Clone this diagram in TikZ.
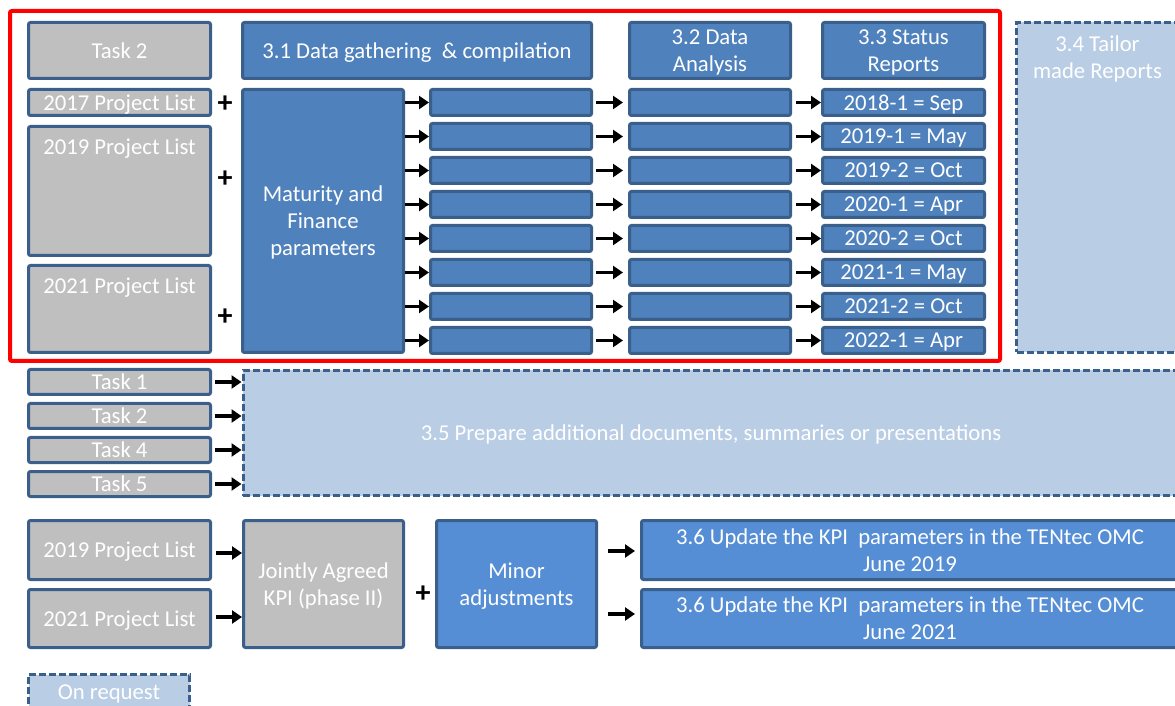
\documentclass[tikz,border=0pt]{standalone}
\usepackage{fontspec}
\setmainfont{Carlito}
\usepackage{xcolor}
\usetikzlibrary{arrows.meta,calc}
\definecolor{taskgray}{HTML}{BFBFBF}
\definecolor{boxline}{HTML}{3A5F8B}
\definecolor{stepblue}{HTML}{4F81BD}
\definecolor{brightblue}{HTML}{558ED5}
\definecolor{reqblue}{HTML}{B9CDE5}
\tikzset{
	boxbase/.style={rectangle, draw=boxline, line width=1.5pt, rounded corners=1pt, text=white, align=center, inner sep=0pt, text depth=0pt},
	graybox/.style={boxbase, fill=taskgray},
	bluebox/.style={boxbase, fill=stepblue},
	brightbox/.style={boxbase, fill=brightblue},
	reqbox/.style={boxbase, fill=reqblue, rounded corners=0pt, dash pattern=on 3.5pt off 1.5pt},
	rowbox/.style={bluebox, minimum width=80.5pt, minimum height=13pt},
	toplabel/.style={anchor=center, text=white, align=center, inner sep=0pt},
	plus/.style={font=\fontsize{15}{15}\selectfont\bfseries, text=black, inner sep=0pt},
	arr/.style={-{Triangle[length=5pt,width=6.5pt]}, line width=1.6pt}
}

\begin{document}
\begin{tikzpicture}[x=0.5pt, y=-0.5pt, font=\fontsize{11.35}{13.5}\selectfont]
        \useasboundingbox (0,0) rectangle (1175,706);
        \draw[red, line width=2pt, rounded corners=1pt] (10,11) rectangle (1000,361);
        \node[graybox, minimum width=91pt, minimum height=28pt] (task_2_top) at (119.5, 50.5) {Task 2};
        \node[bluebox, minimum width=174.5pt, minimum height=28pt] (gather) at (417, 50.5) {3.1 Data gathering\ \ \& compilation};
        \node[bluebox, minimum width=80.5pt, minimum height=28pt] (analysis) at (710, 50.5) {3.2 Data\\Analysis};
        \node[bluebox, minimum width=81pt, minimum height=28pt] (status) at (903.5, 50.5) {3.3 Status\\Reports};
        \node[reqbox, minimum width=81pt, minimum height=165pt,
              label={[toplabel, yshift=-19pt]north:{3.4 Tailor\\made Reports}}] (tailor) at (1097.5, 187.5) {};
        \node[graybox, minimum width=91pt, minimum height=13pt] (pl_2017) at (119.5, 102.5) {2017 Project List};
        \node[graybox, minimum width=91pt, minimum height=64.5pt,
              label={[toplabel, yshift=-12pt]north:2019 Project List}] (pl_2019) at (119.5, 191) {};
        \node[graybox, minimum width=91pt, minimum height=43.5pt,
              label={[toplabel, yshift=-12pt]north:2021 Project List}] (pl_2021) at (119.5, 309) {};
        \node[plus] (plus_1) at (225, 104) {+};
        \node[plus] (plus_2) at (225, 179) {+};
        \node[plus] (plus_3) at (225, 317) {+};
        \node[bluebox, minimum width=80.5pt, minimum height=131.5pt] (mat) at (323, 221) {Maturity and\\Finance\\parameters};
        \node[rowbox] (a_1) at (511, 102.5) {};
        \node[rowbox] (a_2) at (511, 136.5) {};
        \node[rowbox] (a_3) at (511, 170.5) {};
        \node[rowbox] (a_4) at (511, 204.5) {};
        \node[rowbox] (a_5) at (511, 238.5) {};
        \node[rowbox] (a_6) at (511, 272.5) {};
        \node[rowbox] (a_7) at (511, 306.5) {};
        \node[rowbox] (a_8) at (511, 340.5) {};
        \node[rowbox] (b_1) at (710, 102.5) {};
        \node[rowbox] (b_2) at (710, 136.5) {};
        \node[rowbox] (b_3) at (710, 170.5) {};
        \node[rowbox] (b_4) at (710, 204.5) {};
        \node[rowbox] (b_5) at (710, 238.5) {};
        \node[rowbox] (b_6) at (710, 272.5) {};
        \node[rowbox] (b_7) at (710, 306.5) {};
        \node[rowbox] (b_8) at (710, 340.5) {};
        \node[rowbox, minimum width=81pt] (c_1) at (903.5, 102.5) {2018-1 = Sep};
        \node[rowbox, minimum width=81pt] (c_2) at (903.5, 136.5) {2019-1 = May};
        \node[rowbox, minimum width=81pt] (c_3) at (903.5, 170.5) {2019-2 = Oct};
        \node[rowbox, minimum width=81pt] (c_4) at (903.5, 204.5) {2020-1 = Apr};
        \node[rowbox, minimum width=81pt] (c_5) at (903.5, 238.5) {2020-2 = Oct};
        \node[rowbox, minimum width=81pt] (c_6) at (903.5, 272.5) {2021-1 = May};
        \node[rowbox, minimum width=81pt] (c_7) at (903.5, 306.5) {2021-2 = Oct};
        \node[rowbox, minimum width=81pt] (c_8) at (903.5, 340.5) {2022-1 = Apr};
        \draw[arr] (mat.east |- a_1) -- (a_1.west);
        \draw[arr] (mat.east |- a_2) -- (a_2.west);
        \draw[arr] (mat.east |- a_3) -- (a_3.west);
        \draw[arr] (mat.east |- a_4) -- (a_4.west);
        \draw[arr] (mat.east |- a_5) -- (a_5.west);
        \draw[arr] (mat.east |- a_6) -- (a_6.west);
        \draw[arr] (mat.east |- a_7) -- (a_7.west);
        \draw[arr] (mat.east |- a_8) -- (a_8.west);
        \draw[arr, shorten <=1.5pt, shorten >=2.5pt] (a_1) -- (b_1);
        \draw[arr, shorten <=1.5pt, shorten >=2.5pt] (a_2) -- (b_2);
        \draw[arr, shorten <=1.5pt, shorten >=2.5pt] (a_3) -- (b_3);
        \draw[arr, shorten <=1.5pt, shorten >=2.5pt] (a_4) -- (b_4);
        \draw[arr, shorten <=1.5pt, shorten >=2.5pt] (a_5) -- (b_5);
        \draw[arr, shorten <=1.5pt, shorten >=2.5pt] (a_6) -- (b_6);
        \draw[arr, shorten <=1.5pt, shorten >=2.5pt] (a_7) -- (b_7);
        \draw[arr, shorten <=1.5pt, shorten >=2.5pt] (a_8) -- (b_8);
        \draw[arr, shorten <=2pt] (b_1) -- (c_1);
        \draw[arr, shorten <=2pt] (b_2) -- (c_2);
        \draw[arr, shorten <=2pt] (b_3) -- (c_3);
        \draw[arr, shorten <=2pt] (b_4) -- (c_4);
        \draw[arr, shorten <=2pt] (b_5) -- (c_5);
        \draw[arr, shorten <=2pt] (b_6) -- (c_6);
        \draw[arr, shorten <=2pt] (b_7) -- (c_7);
        \draw[arr, shorten <=2pt] (b_8) -- (c_8);
        \node[graybox, minimum width=91pt, minimum height=12.5pt] (task_1) at (119.5, 382) {Task 1};
        \node[graybox, minimum width=91pt, minimum height=12.5pt] (task_2) at (119.5, 416) {Task 2};
        \node[graybox, minimum width=91pt, minimum height=12.5pt] (task_4) at (119.5, 450) {Task 4};
        \node[graybox, minimum width=91pt, minimum height=12.5pt] (task_5) at (119.5, 484) {Task 5};
        \node[reqbox, minimum width=468pt, minimum height=62.5pt] (prep) at (711, 433) {3.5 Prepare additional documents, summaries or presentations};
        \draw[arr, shorten <=1.5pt] (task_1.east) -- (prep.west |- task_1.east);
        \draw[arr, shorten <=1.5pt] (task_2.east) -- (prep.west |- task_2.east);
        \draw[arr, shorten <=1.5pt] (task_4.east) -- (prep.west |- task_4.east);
        \draw[arr, shorten <=1.5pt] (task_5.east) -- (prep.west |- task_5.east);
        \node[graybox, minimum width=91pt, minimum height=29.5pt] (pl_2019_kpi) at (119.5, 550) {2019 Project List};
        \node[graybox, minimum width=91pt, minimum height=29pt] (pl_2021_kpi) at (119.5, 618.5) {2021 Project List};
        \node[graybox, minimum width=80pt, minimum height=63.5pt] (kpi) at (323.5, 584) {Jointly Agreed\\KPI (phase II)};
        \draw[arr, shorten <=2pt] (pl_2019_kpi.east |- 0,553) -- (kpi.west |- 0,553);
        \draw[arr, shorten <=2pt] (pl_2021_kpi.east |- 0,617) -- (kpi.west |- 0,617);
        \node[plus] (plus_4) at (423, 594) {+};
        \node[brightbox, minimum width=80pt, minimum height=63.5pt] (minor) at (516.5, 584) {Minor\\adjustments};
        \node[brightbox, minimum width=268.5pt, minimum height=29.5pt] (upd_2019) at (910, 550) {3.6 Update the KPI\ \ parameters in the TENtec OMC\\June 2019};
        \node[brightbox, minimum width=268.5pt, minimum height=29pt] (upd_2021) at (910, 618.5) {3.6 Update the KPI\ \ parameters in the TENtec OMC\\June 2021};
        \draw[arr, shorten <=5pt, shorten >=2.5pt] (minor.east |- 0,551) -- (upd_2019.west |- 0,551);
        \draw[arr, shorten <=5pt, shorten >=2.5pt] (minor.east |- 0,614) -- (upd_2021.west |- 0,614);
        \node[reqbox, minimum width=80.5pt, minimum height=18pt] (on_request) at (109, 692.5) {On request};
    \end{tikzpicture}
\end{document}
